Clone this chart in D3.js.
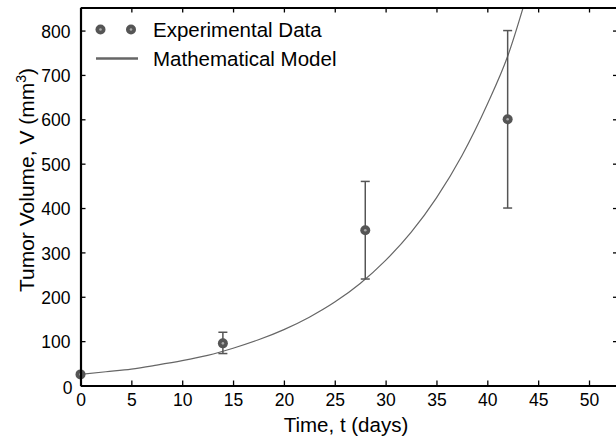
<!DOCTYPE html>
<html>
<head>
<meta charset="utf-8">
<script src="https://cdn.jsdelivr.net/npm/d3@7"></script>
<style>
  body { margin: 0; background: #fff; }
  svg text { font-family: "Liberation Sans", Arial, sans-serif; }
</style>
</head>
<body>
<div id="chart"></div>
<script>
/* CONSTANTS AND GLOBALS */
const width = 616,
  height = 441,
  margin = {top: 7.5, bottom: 55.5, left: 80.5, right: -2};

const expDays = [0, 14, 28, 42];
const expVolume = [25, 95, 350, 600];
const expLow = [25, 72, 240, 400];
const expHigh = [25, 120, 460, 800];

// model curve
const modelDays = [0, 2.5, 5, 7.5, 10, 12.5, 15, 17.5, 20, 22.5, 25, 27.5, 30, 32.5, 35, 37.5, 40, 42, 44];
const modelVolume = [25, 31, 37, 46, 56, 68, 84, 103, 126, 154, 188, 230, 282, 345, 423, 518, 634, 742, 889];

const xTicks = [0, 5, 10, 15, 20, 25, 30, 35, 40, 45, 50];
const yTicks = [0, 100, 200, 300, 400, 500, 600, 700, 800];

const markColor = "#555555";
const lineColor = "#666666";

const svg = d3.select("#chart")
  .append("svg")
  .attr("width", width)
  .attr("height", height);

const xScale = d3.scaleLinear()
  .domain([0, 52.85])
  .range([margin.left, width - margin.right]);

const yScale = d3.scaleLinear()
  .domain([0, 852])
  .range([height - margin.bottom, margin.top]);

// clip for the model curve
svg.append("clipPath")
  .attr("id", "plotclip")
  .append("rect")
  .attr("x", margin.left)
  .attr("y", margin.top)
  .attr("width", width - margin.right - margin.left)
  .attr("height", height - margin.bottom - margin.top);

// MODEL LINE
const model = modelDays.map((d, i) => ({t: d, v: modelVolume[i]}));
const lineGen = d3.line()
  .x(d => xScale(d.t))
  .y(d => yScale(d.v))
  .curve(d3.curveMonotoneX);

svg.append("path")
  .datum(model)
  .attr("clip-path", "url(#plotclip)")
  .attr("d", lineGen)
  .attr("fill", "none")
  .attr("stroke", lineColor)
  .attr("stroke-width", 1.2);

// ERROR BARS
const pts = expDays.map((d, i) => ({t: d, v: expVolume[i], lo: expLow[i], hi: expHigh[i]}));
const err = svg.selectAll(".err")
  .data(pts.filter(d => d.hi > d.lo))
  .join("g")
  .attr("class", "err")
  .attr("stroke", markColor)
  .attr("stroke-width", 1.5);

err.append("line")
  .attr("x1", d => xScale(d.t)).attr("x2", d => xScale(d.t))
  .attr("y1", d => yScale(d.lo)).attr("y2", d => yScale(d.hi));
err.append("line")
  .attr("x1", d => xScale(d.t) - 4.5).attr("x2", d => xScale(d.t) + 4.5)
  .attr("y1", d => yScale(d.hi)).attr("y2", d => yScale(d.hi));
err.append("line")
  .attr("x1", d => xScale(d.t) - 4.5).attr("x2", d => xScale(d.t) + 4.5)
  .attr("y1", d => yScale(d.lo)).attr("y2", d => yScale(d.lo));

// markers
function marker(sel, x, y) {
  sel.append("circle").attr("cx", x).attr("cy", y).attr("r", 5)
    .attr("fill", markColor);
  sel.append("circle").attr("cx", x).attr("cy", y).attr("r", 1.3)
    .attr("fill", "#aaaaaa");
}
pts.forEach(d => marker(svg, xScale(d.t), yScale(d.v)));

// AXES (ticks inward on all four sides)
const bottomG = svg.append("g")
  .attr("transform", `translate(0, ${height - margin.bottom})`)
  .call(d3.axisBottom(xScale).tickValues(xTicks).tickSizeInner(-5).tickSizeOuter(0).tickPadding(8));
const topG = svg.append("g")
  .attr("transform", `translate(0, ${margin.top})`)
  .call(d3.axisTop(xScale).tickValues(xTicks).tickSizeInner(-5).tickSizeOuter(0).tickFormat(""));
const leftG = svg.append("g")
  .attr("transform", `translate(${margin.left}, 0)`)
  .call(d3.axisLeft(yScale).tickValues(yTicks).tickSizeInner(-5).tickSizeOuter(0).tickPadding(10));
const rightG = svg.append("g")
  .attr("transform", `translate(${width - margin.right}, 0)`)
  .call(d3.axisRight(yScale).tickValues(yTicks).tickSizeInner(-5).tickSizeOuter(0).tickFormat(""));

[bottomG, topG, leftG, rightG].forEach(g => {
  g.select(".domain").attr("stroke", "#000").attr("stroke-width", 2.2);
  g.selectAll(".tick line").attr("stroke", "#000").attr("stroke-width", 1.3);
  g.selectAll("text").attr("font-size", 17.5).attr("fill", "#000")
    .style("font-family", "'Liberation Sans', Arial, sans-serif");
});
leftG.selectAll(".tick text").attr("dy", "0.38em");
// the y "0" sits a little below its tick, tucked next to the x "0"
leftG.selectAll(".tick").filter(d => d === 0).select("text").attr("dy", "0.46em").attr("x", -8);

// LABELS
svg.append("text")
  .attr("x", 346)
  .attr("y", 432)
  .attr("text-anchor", "middle")
  .attr("font-size", 20.5)
  .text("Time, t (days)");

const yLab = svg.append("text")
  .attr("transform", "translate(34, 180) rotate(-90)")
  .attr("text-anchor", "middle")
  .attr("font-size", 21);
yLab.append("tspan").text("Tumor Volume, V (mm");
yLab.append("tspan").attr("dy", -8).attr("font-size", 14).text("3");
yLab.append("tspan").attr("dy", 8).text(")");

// LEGEND
marker(svg, 100.5, 29.5);
marker(svg, 131, 29.5);
svg.append("text").attr("x", 153).attr("y", 37).attr("font-size", 20.5).text("Experimental Data");
svg.append("line")
  .attr("x1", 96).attr("x2", 138).attr("y1", 58.5).attr("y2", 58.5)
  .attr("stroke", lineColor).attr("stroke-width", 2.5);
svg.append("text").attr("x", 153).attr("y", 66).attr("font-size", 20.5).text("Mathematical Model");
</script>
</body>
</html>
